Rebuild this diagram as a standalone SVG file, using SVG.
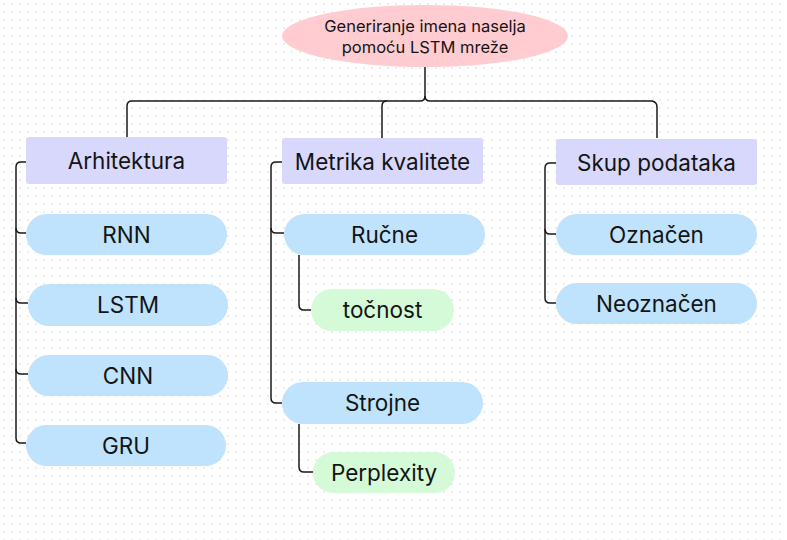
<svg xmlns="http://www.w3.org/2000/svg" width="787" height="540" viewBox="0 0 787 540">
<defs>
<pattern id="dots" width="8" height="8" patternUnits="userSpaceOnUse">
<circle cx="4" cy="4" r="0.9" fill="#e6e6e6"/>
</pattern>
<style>
.lbl{font-family:Inter,"Noto Sans","Liberation Sans",sans-serif;fill:#141414;text-anchor:middle;dominant-baseline:central}
.big{font-size:22.5px}
.title{font-size:16.5px}
.cat{fill:#d8d8fd}
.leaf{fill:#bfe3fc}
.sub{fill:#d5fad8}
.conn{fill:none;stroke:#1a1a1a;stroke-width:1.5}
</style>
</defs>
<rect width="787" height="540" fill="#ffffff"/>
<rect width="787" height="540" fill="url(#dots)"/>
<g id="connectors" class="conn">
<path d="M425,67 V96 Q425,101 420,101 H132 Q127,101 127,106 V137"/>
<path d="M425,96 Q425,101 430,101 H652 Q657,102 657,107 V138"/>
<path d="M387,101 Q382,101 382,106 V138"/>
<path d="M26,162 H21 Q16,162 16,167 V228 Q16,233 21,233 H26"/>
<path d="M16,228 V298 Q16,303 21,303 H28"/>
<path d="M16,298 V369 Q16,374 21,374 H28"/>
<path d="M16,369 V438 Q16,443 21,443 H26"/>
<path d="M282,162 H276 Q271,162 271,167 V228 Q271,233 276,233 H284"/>
<path d="M271,228 V398 Q271,403 276,403 H282"/>
<path d="M299,255 V305 Q299,310 304,310 H311"/>
<path d="M299,424 V467 Q299,472 304,472 H313"/>
<path d="M556,163 H550 Q545,163 545,168 V229 Q545,234 550,234 H556"/>
<path d="M545,229 V298 Q545,303 550,303 H556"/>
</g>
<g id="root">
<ellipse cx="425" cy="36" rx="143" ry="31" fill="#ffccd1"/>
<text class="lbl title" x="425" y="26">Generiranje imena naselja</text>
<text class="lbl title" x="425" y="47">pomoću LSTM mreže</text>
</g>
<g id="arhitektura"><rect class="cat" x="26" y="137" width="201" height="47" rx="3"/><text class="lbl big" x="126.5" y="160">Arhitektura</text></g>
<g id="rnn"><rect class="leaf" x="26" y="214" width="201" height="41" rx="20.5"/><text class="lbl big" x="126.5" y="234">RNN</text></g>
<g id="lstm"><rect class="leaf" x="28" y="284" width="200" height="42" rx="21"/><text class="lbl big" x="128" y="304">LSTM</text></g>
<g id="cnn"><rect class="leaf" x="28" y="355" width="200" height="41" rx="20.5"/><text class="lbl big" x="128" y="375">CNN</text></g>
<g id="gru"><rect class="leaf" x="26" y="425" width="200" height="41" rx="20.5"/><text class="lbl big" x="126" y="445">GRU</text></g>
<g id="metrika"><rect class="cat" x="282" y="138" width="201" height="46" rx="3"/><text class="lbl big" x="382.5" y="161">Metrika kvalitete</text></g>
<g id="rucne"><rect class="leaf" x="284" y="214" width="201" height="41" rx="20.5"/><text class="lbl big" x="384.5" y="234">Ručne</text></g>
<g id="tocnost"><rect class="sub" x="311" y="289" width="143" height="42" rx="21"/><text class="lbl big" x="382.5" y="309">točnost</text></g>
<g id="strojne"><rect class="leaf" x="282" y="382" width="201" height="42" rx="21"/><text class="lbl big" x="382.5" y="402">Strojne</text></g>
<g id="perplexity"><rect class="sub" x="313" y="452" width="142" height="41" rx="20.5"/><text class="lbl big" x="384" y="472">Perplexity</text></g>
<g id="skup"><rect class="cat" x="556" y="139" width="201" height="46" rx="3"/><text class="lbl big" x="656.5" y="162">Skup podataka</text></g>
<g id="oznacen"><rect class="leaf" x="556" y="214" width="201" height="41" rx="20.5"/><text class="lbl big" x="656.5" y="234">Označen</text></g>
<g id="neoznacen"><rect class="leaf" x="556" y="283" width="201" height="41" rx="20.5"/><text class="lbl big" x="656.5" y="303">Neoznačen</text></g>
</svg>
